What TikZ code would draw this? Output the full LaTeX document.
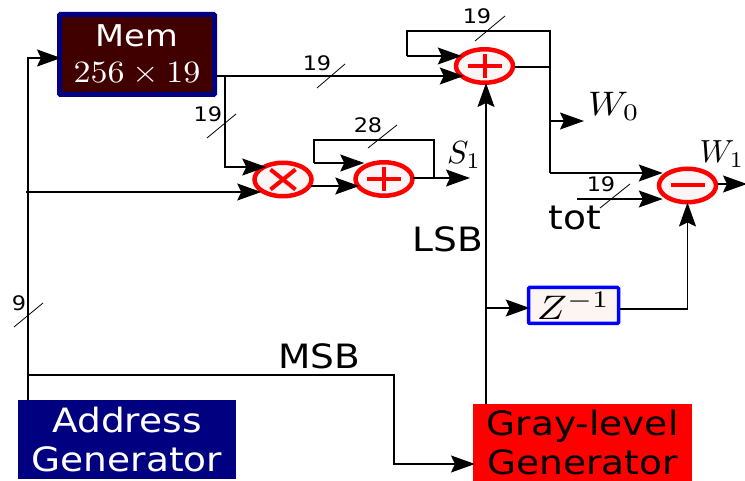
\documentclass[tikz,border=0pt]{standalone}
\usepackage[no-math]{fontspec}
\usepackage{graphicx}
\setmainfont[FakeStretch=1.12]{DejaVu Sans}
\usetikzlibrary{arrows.meta,shapes.geometric,calc}
\definecolor{memfill}{HTML}{400000}
\definecolor{navyb}{HTML}{000080}
\definecolor{opfill}{HTML}{FBF5F5}
\definecolor{zfill}{HTML}{FDF5F2}
\newcommand{\bigtxt}{\fontsize{33.5}{39}\selectfont}
\newcommand{\smalltxt}{\fontsize{20}{22}\selectfont}
\tikzset{
  x=1pt,y=-1pt,
  wire/.style={draw=black,line width=1.5pt,line join=miter},
  arr/.style={wire,-{Stealth[length=24pt,width=17pt,inset=4pt]}},
  slashmark/.style={draw=black,line width=0.8pt},
  opnode/.style={ellipse,draw=red,fill=opfill,line width=4.5pt,minimum width=57pt,minimum height=33.5pt,inner sep=0pt},
  opsym/.style={draw=red,line width=4pt},
  blocktxt/.style={inner sep=0pt,outer sep=0pt,align=center,font=\bigtxt},
  bits/.style={anchor=base,inner sep=0pt,font=\smalltxt},
  biglabel/.style={anchor=base,inner sep=0pt,font=\bigtxt},
  mathlabel/.style={inner sep=0pt},
}
\begin{document}
\begin{tikzpicture}
\useasboundingbox (0,0) rectangle (745,481);
% junction / routing coordinates
\coordinate (busx) at (28,192);
\coordinate (rowmem) at (0,58);
\coordinate (rowmsb) at (0,375);
\coordinate (rowmemout) at (225,76);
\coordinate (rowtimes) at (225,167);
\coordinate (outB) at (550,67);
\coordinate (fbBtop) at (407,31);
\coordinate (fbBlow) at (407,56);
\coordinate (outA) at (434,178);
\coordinate (fbAtop) at (314,140);
\coordinate (fbAlow) at (314,163);
\coordinate (wzero) at (584,121);
\coordinate (wbranch) at (550,121);
\coordinate (minusin) at (550,173);
\coordinate (totstart) at (577,199);
\coordinate (msbturn) at (394,375);
\coordinate (lsbjoin) at (486,308);
% blocks
\node[draw=navyb,fill=memfill,line width=5pt,rounded corners=1pt,minimum width=155pt,minimum height=80pt,inner sep=0pt,text=white] (mem) at (137,54.5) {};
\node[inner sep=0pt,text=white,anchor=base,font=\fontsize{30}{32}\selectfont] (memname) at (137,47) {Mem};
\node[inner sep=0pt,text=white,anchor=base] (memsize) at (137,83) {\scalebox{3.4}[3.1]{$256\times 19$}};
\node[fill=navyb,minimum width=218pt,minimum height=79pt,blocktxt,text=white] (addr) at (127,439.5) {Address\\Generator};
\node[fill=red,minimum width=219pt,minimum height=77pt,blocktxt,text=black] (gray) at (582.5,442.5) {Gray-level\\Generator};
\node[draw=blue,fill=zfill,line width=3.5pt,rounded corners=1pt,minimum width=90pt,minimum height=36pt,inner sep=0pt] (zinv) at (573.5,305.5) {\scalebox{4}[3.4]{$Z^{-1}$}};
% operators
\node[opnode] (times) at (283,179.5) {};
\node[opnode] (plusA) at (384,179) {};
\node[opnode] (plusB) at (484.5,66) {};
\node[opnode] (minus) at (687.5,185.5) {};
\draw[opsym] ([shift={(-12.5,-10)}]times.center) -- ([shift={(12.5,10)}]times.center);
\draw[opsym] ([shift={(-12.5,10)}]times.center) -- ([shift={(12.5,-10)}]times.center);
\draw[opsym] ([xshift=-17pt]plusA.center) -- ([xshift=17pt]plusA.center);
\draw[opsym] ([yshift=-12pt]plusA.center) -- ([yshift=12pt]plusA.center);
\draw[opsym] ([xshift=-17pt]plusB.center) -- ([xshift=17pt]plusB.center);
\draw[opsym] ([yshift=-12pt]plusB.center) -- ([yshift=12pt]plusB.center);
\draw[opsym] ([xshift=-17pt]minus.center) -- ([xshift=17pt]minus.center);
% connectors
\draw[arr] (busx |- addr.north) -- (busx |- rowmem) -- ($(mem.west |- rowmem)+(4,0)$);
\draw[arr] ($(busx)+(-2,0)$) -- ($(times.west |- busx)+(9,0)$);
\draw[arr] (mem.east |- rowmemout) -- ($(plusB.west |- rowmemout)+(10,0)$);
\draw[arr] (rowmemout) -- (rowtimes) -- ($(times.west |- rowtimes)+(14,0)$);
\draw[arr] ($(times.east)+(-3,6.5)$) -- ($(plusA.west)+(6,7)$);
\draw[arr] ($(plusA.east |- outA)+(-2,0)$) -- (470,178);
\draw[wire] (outA) -- (outA |- fbAtop) -- (fbAtop) -- (fbAlow);
\draw[arr] (fbAlow) -- ($(plusA.west |- fbAlow)+(11,0)$);
\draw[wire] (plusB.east |- outB) -- (outB);
\draw[wire] (outB |- minusin) -- (outB |- fbBtop) -- (fbBtop) -- (fbBlow);
\draw[arr] (fbBlow) -- ($(plusB.west |- fbBlow)+(8,0)$);
\draw[arr] (wbranch) -- (wzero);
\draw[arr] (minusin) -- ($(minus.west |- minusin)+(6,0)$);
\draw[arr] (totstart) -- ($(minus.west |- totstart)+(6,0)$);
\draw[arr] (minus.east |- 0,184) -- (747,184);
\draw[arr] (zinv.east |- 0,309) -- (minus |- 0,309) -- ($(minus.south)+(0,-2)$);
\draw[arr] (lsbjoin |- gray.north) -- ($(lsbjoin |- plusB.south)+(0,-2)$);
\draw[arr] ($(lsbjoin)+(-1,0)$) -- ($(zinv.west |- lsbjoin)+(3,0)$);
\draw[arr] (busx |- rowmsb) -- (msbturn) -- (msbturn |- 0,464) -- ($(gray.west |- 0,464)+(2,0)$);
% bus slashes
\draw[slashmark] (317,88) -- (345,64);
\draw[slashmark] (207,138) -- (236,114);
\draw[slashmark] (368,148) -- (397,125);
\draw[slashmark] (475,41) -- (505,16);
\draw[slashmark] (600,208) -- (630,184);
\draw[slashmark] (14,327) -- (43,303);
% labels
\node[bits] (b1) at (317,71) {19};
\node[bits] (b2) at (208,122) {19};
\node[bits] (b3) at (368,133) {28};
\node[bits] (b4) at (477,24) {19};
\node[bits] (b5) at (601,192) {19};
\node[bits] (b6) at (19,311) {9};
\node[biglabel] (msb) at (319,368) {MSB};
\node[biglabel] (lsb) at (448,252) {LSB};
\node[biglabel] (tot) at (575,230) {tot};
\node[mathlabel] (w0) at (614,106) {\scalebox{3.7}[3.4]{$W_0$}};
\node[mathlabel] (s1) at (464,155) {\scalebox{3.2}{$S_1$}};
\node[mathlabel] (w1) at (722,154) {\scalebox{3.2}{$W_1$}};
\end{tikzpicture}
\end{document}
